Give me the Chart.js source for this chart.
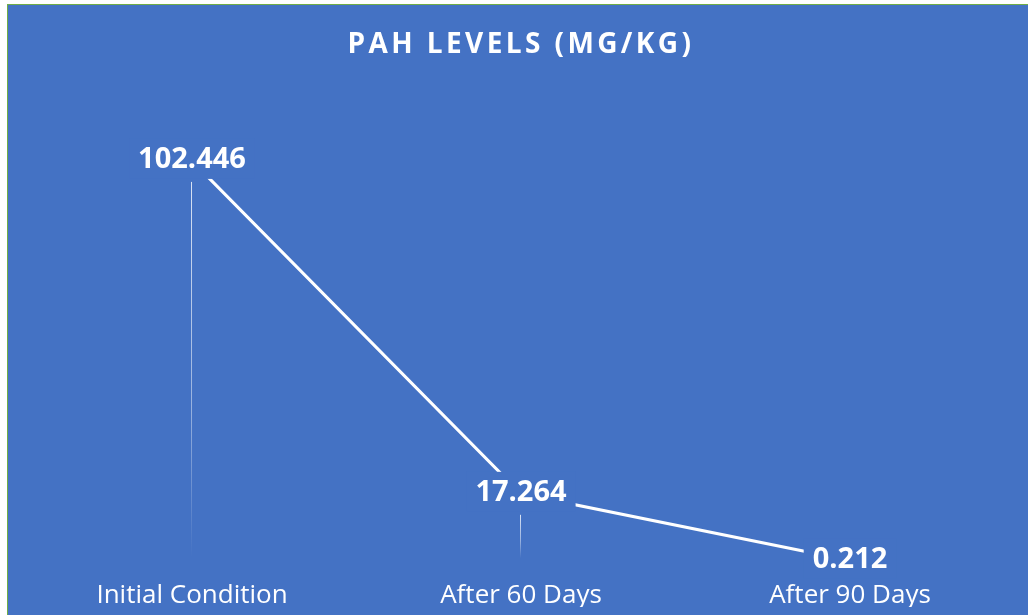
<!DOCTYPE html>
<html>
<head>
<meta charset="utf-8">
<title>PAH Levels</title>
<script src="https://cdn.jsdelivr.net/npm/chart.js@4.4.1/dist/chart.umd.min.js"></script>
<style>
    html, body { margin: 0; padding: 0; background: #fff; }
    #wrap {
        position: absolute;
        left: 7px;
        top: 4px;
        width: 1020px;
        height: 610px;
        border-left: 1px solid #70AD47;
        border-top: 1px solid #70AD47;
        background: #4472C4;
    }
    canvas { display: block; }
</style>
</head>
<body>
<div id="wrap"><canvas id="myChart" width="1020" height="610"></canvas></div>
<script>
// Chart data
const chartTitle = 'PAH LEVELS (MG/KG)';
const categories = ['Initial Condition', 'After 60 Days', 'After 90 Days'];
const pahLevels = [102.446, 17.264, 0.212];

const bgColor = '#4472C4';

// Title drawn by hand so it can have letter spacing
const titlePlugin = {
    id: 'spacedTitle',
    afterDraw(chart) {
        const ctx = chart.ctx;
        ctx.save();
        ctx.font = 'bold 28px "Open Sans"';
        ctx.letterSpacing = '3.4px';
        ctx.fillStyle = '#fff';
        ctx.textAlign = 'center';
        ctx.textBaseline = 'middle';
        ctx.fillText(chartTitle, chart.width / 2 + 3, 40);
        ctx.restore();
    }
};

// Faded drop lines from each point down to the axis
const dropLines = {
    id: 'dropLines',
    beforeDatasetsDraw(chart) {
        const ctx = chart.ctx;
        const meta = chart.getDatasetMeta(0);
        const bottom = chart.chartArea.bottom - 3;
        meta.data.forEach(pt => {
            const top = pt.y + 21;
            if (top >= bottom - 5) return;
            const grad = ctx.createLinearGradient(0, top, 0, bottom);
            grad.addColorStop(0, 'rgba(255,255,255,0.8)');
            grad.addColorStop(0.6, 'rgba(255,255,255,0.45)');
            grad.addColorStop(1, 'rgba(255,255,255,0)');
            ctx.save();
            ctx.strokeStyle = grad;
            ctx.lineWidth = 1;
            ctx.beginPath();
            ctx.moveTo(Math.round(pt.x) - 0.5, top);
            ctx.lineTo(Math.round(pt.x) - 0.5, bottom);
            ctx.stroke();
            ctx.restore();
        });
    }
};

// Value labels sitting on the points, with a box that hides the line behind
const valueLabels = {
    id: 'valueLabels',
    afterDatasetsDraw(chart) {
        const ctx = chart.ctx;
        const meta = chart.getDatasetMeta(0);
        ctx.save();
        ctx.font = 'bold 29px "Open Sans"';
        ctx.textAlign = 'center';
        ctx.textBaseline = 'middle';
        meta.data.forEach((pt, i) => {
            const text = pahLevels[i].toFixed(3);
            const w = ctx.measureText(text).width;
            ctx.fillStyle = bgColor;
            ctx.fillRect(pt.x - w / 2 - 9, pt.y - 22, w + 18, 40);
            ctx.fillStyle = '#fff';
            ctx.fillText(text, pt.x, pt.y - 1);
        });
        ctx.restore();
    }
};

const ctx = document.getElementById('myChart');

new Chart(ctx, {
    type: 'line',
    data: {
        labels: categories,
        datasets: [{
            label: 'PAH',
            data: pahLevels,
            borderColor: '#ffffff',
            borderWidth: 3,
            pointRadius: 0,
            tension: 0,
            clip: false
        }]
    },
    options: {
        responsive: false,
        animation: false,
        layout: {
            padding: { top: 87.3, left: 19.5, right: 13.5, bottom: 8 }
        },
        plugins: {
            legend: { display: false },
            tooltip: { enabled: false },
            title: { display: false }
        },
        scales: {
            x: {
                offset: true,
                grid: { display: false, drawTicks: false },
                border: { display: false },
                ticks: {
                    color: '#ffffff',
                    padding: 18.7,
                    maxRotation: 0,
                    font: { family: '"Open Sans"', size: 26 }
                },
                afterFit(scale) {
                    scale.height = 45.7;
                }
            },
            y: {
                display: false,
                min: 0,
                max: 120
            }
        }
    },
    plugins: [titlePlugin, dropLines, valueLabels]
});
</script>
</body>
</html>
